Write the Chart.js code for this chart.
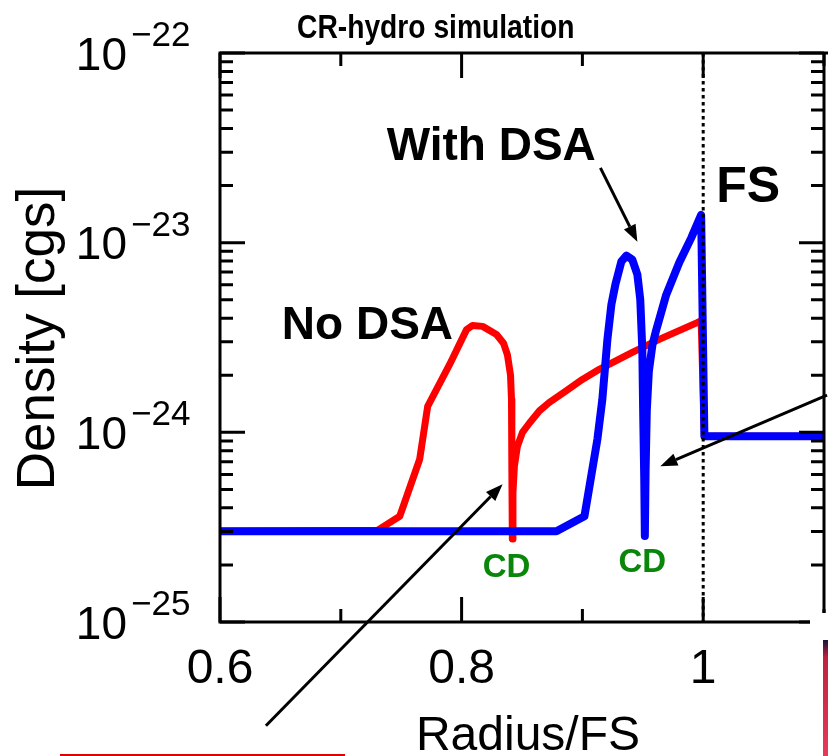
<!DOCTYPE html>
<html><head><meta charset="utf-8">
<script src="https://cdn.jsdelivr.net/npm/chart.js@4.4.0/dist/chart.umd.min.js"></script>
<style>html,body{margin:0;padding:0;background:#fff;overflow:hidden}canvas{display:block}</style>
</head><body>
<canvas id="c" width="828" height="756"></canvas>
<script>
// ---- text ----
const titleText = 'CR-hydro simulation';
const xAxisTitle = 'Radius/FS';
const yAxisTitle = 'Density [cgs]';
const labelWith = 'With DSA';
const labelNo = 'No DSA';
const labelFS = 'FS';
const labelCD = 'CD';

// ---- ticks ----
const xTickValues = [0.6, 0.7, 0.8, 0.9, 1.0, 1.1];
const xTickLabels = ['0.6', '', '0.8', '', '1', ''];
const yDecadeExps = [-22, -23, -24, -25];
const yTickBase = '10';
const yTickExponents = ['\u221222', '\u221223', '\u221224', '\u221225'];

// ---- series: No DSA (red) ----
const noDsaR = [0.600, 0.7306, 0.7488, 0.7653, 0.7719, 0.7901, 0.8041, 0.8091, 0.8174, 0.8289,
  0.8347, 0.8380, 0.8405, 0.8413, 0.8416, 0.8420, 0.8425, 0.8437, 0.8462, 0.8504,
  0.8562, 0.8645, 0.8727, 0.8868, 0.9000, 0.9140, 0.9413, 0.9636, 0.9950, 0.9983,
  1.0010, 1.1000];
const noDsaRho = [3.01e-25, 3.05e-25, 3.61e-25, 7.21e-25, 1.37e-24, 2.28e-24, 3.48e-24, 3.66e-24, 3.62e-24, 3.28e-24,
  2.95e-24, 2.55e-24, 2.00e-24, 1.49e-24, 6.39e-25, 2.74e-25, 4.80e-25, 6.62e-25, 8.44e-25, 1.00e-24,
  1.12e-24, 1.30e-24, 1.44e-24, 1.66e-24, 1.90e-24, 2.15e-24, 2.64e-24, 3.09e-24, 3.79e-24, 3.88e-24,
  9.53e-25, 9.53e-25];

// ---- series: With DSA (blue) ----
const withDsaR = [0.600, 0.8785, 0.9017, 0.9124, 0.9165, 0.9207, 0.9240, 0.9273, 0.9322, 0.9364,
  0.9413, 0.9455, 0.9479, 0.9496, 0.9504, 0.9512, 0.9517, 0.9523, 0.9533, 0.9550,
  0.9580, 0.9612, 0.9694, 0.9802, 0.9901, 0.9983, 1.0010, 1.0040, 1.1000];
const withDsaRho = [3.01e-25, 3.01e-25, 3.61e-25, 9.19e-25, 1.49e-24, 3.09e-24, 4.72e-24, 6.01e-24, 7.94e-24, 8.54e-24,
  8.14e-24, 6.79e-24, 5.01e-24, 2.73e-24, 1.17e-24, 5.66e-25, 2.84e-25, 6.20e-25, 1.30e-24, 2.10e-24,
  2.90e-24, 3.48e-24, 5.32e-24, 7.85e-24, 1.06e-23, 1.40e-23, 9.53e-25, 9.53e-25, 9.53e-25];

// ---- forward shock marker ----
const fsR = [1.0, 1.0];
const fsRho = [1e-22, 1e-25];

const toPts = (xs, ys) => xs.map((v, i) => ({x: v, y: ys[i]}));
const FONT = "'Liberation Sans', Arial, sans-serif";

function arrow(ctx, x0, y0, x1, y1) {
  const ang = Math.atan2(y1 - y0, x1 - x0);
  const L = 17, W = 6.5;
  const bx = x1 - L * Math.cos(ang), by = y1 - L * Math.sin(ang);
  ctx.beginPath();
  ctx.moveTo(x0, y0); ctx.lineTo(bx, by); ctx.stroke();
  ctx.beginPath();
  ctx.moveTo(x1, y1);
  ctx.lineTo(bx + W * Math.sin(ang), by - W * Math.cos(ang));
  ctx.lineTo(bx - W * Math.sin(ang), by + W * Math.cos(ang));
  ctx.closePath(); ctx.fill();
}

const decor = {
  id: 'decor',
  afterDraw(chart) {
    const {ctx, chartArea: a, scales: {x, y}} = chart;
    ctx.save();
    ctx.strokeStyle = '#000'; ctx.fillStyle = '#000';
    ctx.lineWidth = 3; ctx.lineCap = 'butt';
    // frame
    ctx.beginPath();
    ctx.moveTo(a.left - 1.5, a.top); ctx.lineTo(828, a.top);
    ctx.moveTo(a.left, a.top); ctx.lineTo(a.left, a.bottom + 1.5);
    ctx.moveTo(a.left - 1.5, a.bottom); ctx.lineTo(a.right + 1.5, a.bottom);
    ctx.moveTo(a.right, a.top); ctx.lineTo(a.right, a.bottom);
    ctx.stroke();
    // x ticks (inward, bottom and top)
    ctx.beginPath();
    xTickValues.forEach((v, i) => {
      const px = x.getPixelForValue(v);
      const len = xTickLabels[i] ? 25 : 13;
      ctx.moveTo(px, a.bottom); ctx.lineTo(px, a.bottom - len);
      ctx.moveTo(px, a.top); ctx.lineTo(px, a.top + len);
    });
    // y ticks (inward, left and right)
    yDecadeExps.forEach(e => {
      for (let m = 1; m <= 9; m++) {
        if (e === -22 && m > 1) break;
        const py = y.getPixelForValue(m * Math.pow(10, e));
        const len = m === 1 ? 25 : 13;
        ctx.moveTo(a.left, py); ctx.lineTo(a.left + len, py);
        ctx.moveTo(a.right, py); ctx.lineTo(a.right - len, py);
      }
    });
    ctx.stroke();

    // x tick labels
    ctx.font = `48px ${FONT}`;
    ctx.textAlign = 'center'; ctx.textBaseline = 'alphabetic';
    xTickValues.forEach((v, i) => {
      if (xTickLabels[i]) ctx.fillText(xTickLabels[i], x.getPixelForValue(v), a.bottom + 61);
    });
    // y tick labels 10^-n
    yDecadeExps.forEach((e, i) => {
      const py = y.getPixelForValue(Math.pow(10, e));
      ctx.font = `46px ${FONT}`;
      ctx.textAlign = 'right';
      ctx.fillText(yTickBase, a.left - 93, py + 16.5);
      ctx.font = `35px ${FONT}`;
      ctx.textAlign = 'left';
      ctx.fillText(yTickExponents[i], a.left - 89, py - 7);
    });
    // axis titles
    ctx.font = `48px ${FONT}`;
    ctx.textAlign = 'center';
    ctx.fillText(xAxisTitle, (a.left + a.right) / 2 + 6, a.bottom + 128);
    ctx.save();
    ctx.translate(54, (a.top + a.bottom) / 2 + 1);
    ctx.rotate(-Math.PI / 2);
    ctx.font = `53px ${FONT}`;
    ctx.fillText(yAxisTitle, 0, 0);
    ctx.restore();
    // title (narrow bold)
    ctx.save();
    ctx.translate(297, 38);
    ctx.scale(0.83, 1);
    ctx.font = `bold 34px ${FONT}`;
    ctx.textAlign = 'left';
    ctx.fillText(titleText, 0, 0);
    ctx.restore();
    ctx.textAlign = 'left';

    // annotations (placed in data coordinates)
    const P = (xv, yv) => [x.getPixelForValue(xv), y.getPixelForValue(yv)];
    ctx.font = `bold 46px ${FONT}`;
    let p = P(0.7380, 2.73e-23); ctx.fillText(labelWith, p[0], p[1]);
    p = P(0.6512, 3.09e-24); ctx.fillText(labelNo, p[0], p[1]);
    ctx.font = `bold 50px ${FONT}`;
    p = P(1.0107, 1.64e-23); ctx.fillText(labelFS, p[0], p[1]);
    ctx.font = `bold 33px ${FONT}`;
    ctx.fillStyle = '#0a860a';
    ctx.textAlign = 'center';
    p = P(0.8372, 1.72e-25); ctx.fillText(labelCD, p[0], p[1]);
    p = P(0.9496, 1.83e-25); ctx.fillText(labelCD, p[0], p[1]);

    // arrows
    ctx.fillStyle = '#000'; ctx.strokeStyle = '#000'; ctx.lineWidth = 3;
    let t = P(0.9149, 2.48e-23), h = P(0.9455, 1.01e-23);
    arrow(ctx, t[0], t[1], h[0], h[1]);
    t = P(0.638, 2.84e-26); h = P(0.8339, 5.32e-25);
    arrow(ctx, t[0], t[1], h[0], h[1]);
    t = P(1.1025, 1.57e-24); h = P(0.9645, 6.62e-25);
    arrow(ctx, t[0], t[1], h[0], h[1]);

    // slide remnants at the edges
    ctx.fillStyle = '#fff';
    ctx.fillRect(a.right - 14, a.bottom - 9, 828 - (a.right - 14), 756 - (a.bottom - 9));
    const g = ctx.createLinearGradient(0, 640, 0, 756);
    g.addColorStop(0, '#14143c'); g.addColorStop(0.15, '#c02040'); g.addColorStop(1, '#e83a5a');
    ctx.fillStyle = g;
    ctx.fillRect(823, 640, 5, 116);
    ctx.strokeStyle = '#e00000'; ctx.lineWidth = 2;
    ctx.beginPath(); ctx.moveTo(60, 755); ctx.lineTo(345, 755); ctx.stroke();
    ctx.restore();
  }
};

new Chart(document.getElementById('c'), {
  type: 'scatter',
  data: {
    datasets: [
      {label: 'FS', data: toPts(fsR, fsRho), showLine: true, borderColor: '#000', borderWidth: 3,
       borderDash: [3.5, 3.5], pointRadius: 0, order: 0},
      {label: 'With DSA', data: toPts(withDsaR, withDsaRho), showLine: true, borderColor: '#0000ff',
       borderWidth: 8, pointRadius: 0, borderJoinStyle: 'round', borderCapStyle: 'round', tension: 0, order: 1},
      {label: 'No DSA', data: toPts(noDsaR, noDsaRho), showLine: true, borderColor: '#ff0000',
       borderWidth: 7, pointRadius: 0, borderJoinStyle: 'round', borderCapStyle: 'round', tension: 0, order: 2}
    ]
  },
  options: {
    responsive: false,
    animation: false,
    events: [],
    layout: {padding: {left: 220, right: 4, top: 53, bottom: 134}},
    plugins: {legend: {display: false}, tooltip: {enabled: false}, title: {display: false}},
    scales: {
      x: {type: 'linear', min: 0.6, max: 1.1, display: false},
      y: {type: 'logarithmic', min: 1e-25, max: 1e-22, display: false}
    }
  },
  plugins: [decor]
});
</script>
</body></html>
